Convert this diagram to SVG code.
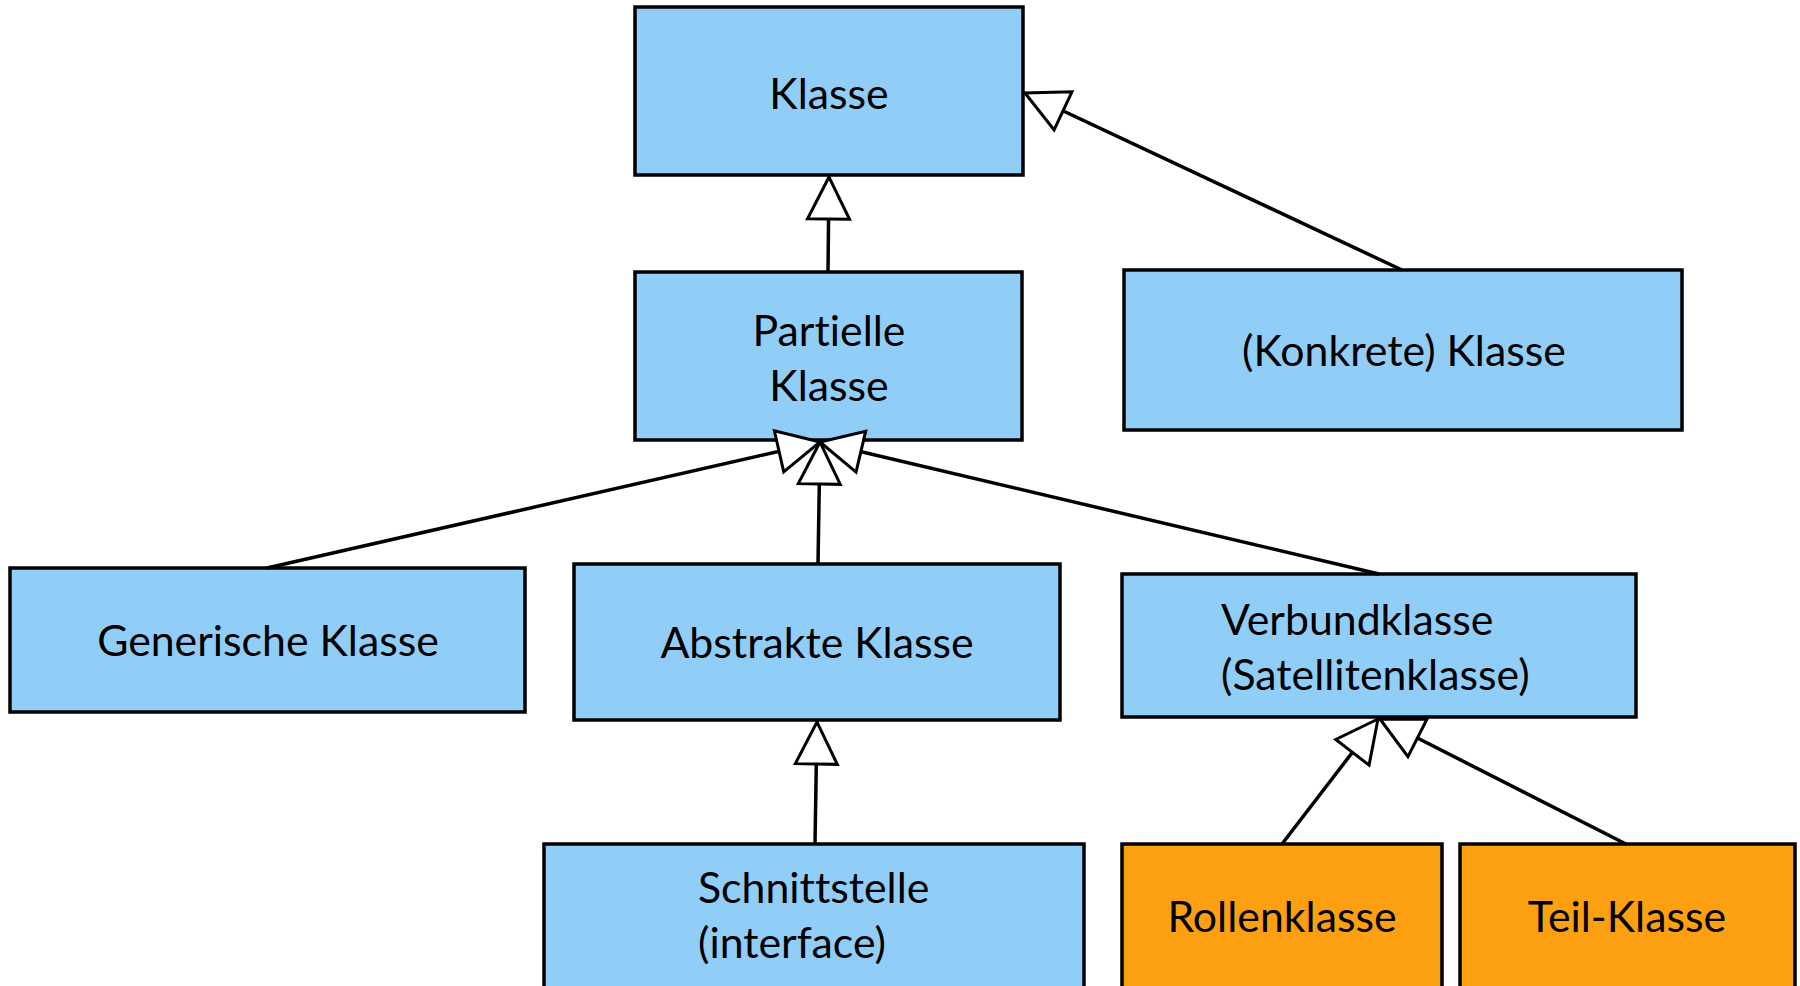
<svg xmlns="http://www.w3.org/2000/svg" width="1800" height="986" viewBox="0 0 1800 986">
<style>
.node rect{stroke:#000;stroke-width:3.5;}
.blue{fill:#90CEF8;}
.orange{fill:#FCA011;}
text{font-family:Lato,"Liberation Sans",sans-serif;font-size:42.8px;fill:#000;font-variant-ligatures:none;}
.c{text-anchor:middle;}
.edge{stroke:#000;stroke-width:3.5;fill:none;marker-end:url(#gen);}
</style>
<defs>
<marker id="gen" markerUnits="userSpaceOnUse" viewBox="-50 -30 60 60" markerWidth="60" markerHeight="60" refX="0" refY="0" orient="auto" overflow="visible">
<path d="M0,0 L-42,-21 L-42,21 Z" fill="#fff" stroke="#000" stroke-width="3" stroke-linejoin="miter"/>
</marker>
</defs>
<rect width="1800" height="986" fill="#fff"/>
<g id="n-klasse" class="node"><rect class="blue" x="635" y="7" width="388" height="168"/><text class="c" x="829" y="109">Klasse</text></g>
<g id="n-partielle" class="node"><rect class="blue" x="635" y="272" width="387" height="168"/><text class="c" x="829" y="346">Partielle</text><text class="c" x="829" y="401">Klasse</text></g>
<g id="n-konkrete" class="node"><rect class="blue" x="1124" y="270" width="558" height="160"/><text class="c" x="1404" y="366">(Konkrete) Klasse</text></g>
<g id="n-generisch" class="node"><rect class="blue" x="10" y="568" width="515" height="144"/><text class="c" x="268" y="656">Generische Klasse</text></g>
<g id="n-abstrakt" class="node"><rect class="blue" x="574" y="564" width="486" height="156"/><text class="c" x="817" y="658">Abstrakte Klasse</text></g>
<g id="n-verbund" class="node"><rect class="blue" x="1122" y="574" width="514" height="143"/><text x="1221" y="635">Verbundklasse</text><text x="1221" y="690">(Satellitenklasse)</text></g>
<g id="n-schnitt" class="node"><rect class="blue" x="544" y="844" width="540" height="145"/><text x="698" y="903">Schnittstelle</text><text x="698" y="958">(interface)</text></g>
<g id="n-rolle" class="node"><rect class="orange" x="1122" y="844" width="320" height="145"/><text class="c" x="1282" y="932">Rollenklasse</text></g>
<g id="n-teil" class="node"><rect class="orange" x="1460" y="844" width="335" height="145"/><text class="c" x="1627" y="932">Teil-Klasse</text></g>
<g id="connectors">
<path class="edge" d="M828,272 L829,177"/>
<path class="edge" d="M1402,270 L1025,93"/>
<path class="edge" d="M267,568 L820,442"/>
<path class="edge" d="M818,564 L820,442"/>
<path class="edge" d="M1379,574 L820,442"/>
<path class="edge" d="M815,844 L817,722"/>
<path class="edge" d="M1282,844 L1378,719"/>
<path class="edge" d="M1626,844 L1380,719"/>
</g>
</svg>
